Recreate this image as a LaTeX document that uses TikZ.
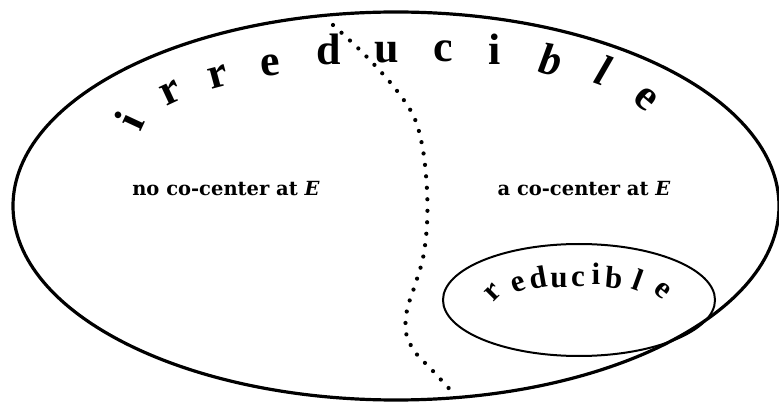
\documentclass[tikz,border=0pt]{standalone}
\usepackage{fontspec}
\setmainfont{Liberation Serif}
\newfontfamily\lblfont{DejaVu Serif}
\begin{document}
\begin{tikzpicture}[x=1pt,y=-1pt,
  bigletter/.style={font=\fontsize{44}{44}\selectfont\bfseries, anchor=base, inner sep=0pt},
  smallletter/.style={font=\fontsize{31}{31}\selectfont\bfseries, anchor=base, inner sep=0pt},
  regionlabel/.style={font=\lblfont\fontsize{19.5}{19.5}\selectfont\bfseries, inner sep=0pt},
  dotline/.style={line width=4.2pt, line cap=round, dash pattern=on 0pt off 11.5pt},
  bigoval/.style={line width=3.2pt},
  smalloval/.style={line width=2pt}]
\useasboundingbox (0,0) rectangle (779,403);
% outer set
\draw[bigoval] (396,206) ellipse [x radius=383, y radius=194];
% reducible set
\draw[smalloval] (579,300) ellipse [x radius=136, y radius=56];
% dividing dotted curve
\draw[dotline] plot[smooth, tension=0.55] coordinates {(333,25) (364,54) (394,87) (414,117) (423,150) (427,190) (427,225) (423,258) (415,285) (407,310) (406,333) (415,352) (432,370) (455,395)};
% irreducible
\node[bigletter, rotate=65] (i1) at (143,127) {i};
\node[bigletter, rotate=25] (r1) at (175,102) {r};
\node[bigletter, rotate=15] (r2) at (221,87) {r};
\node[bigletter, rotate=5]  (e1) at (271,76) {e};
\node[bigletter] (d1) at (329,65) {d};
\node[bigletter] (u1) at (387,63) {u};
\node[bigletter] (c1) at (443,62) {c};
\node[bigletter] (i2) at (495,65) {i};
\node[bigletter, rotate=-10] (b1) at (548,74) {\itshape b};
\node[bigletter, rotate=-20] (l1) at (598,85) {\itshape l};
\node[bigletter, rotate=-40] (e2) at (639,107) {e};
% reducible
\node[smallletter, rotate=45]  (r3) at (498,298) {r};
\node[smallletter, rotate=20]  (e3) at (521,291) {e};
\node[smallletter, rotate=10]  (d2) at (540,288) {d};
\node[smallletter] (u2) at (559,288) {u};
\node[smallletter] (c2) at (578,287) {c};
\node[smallletter] (i3) at (596,285) {i};
\node[smallletter, rotate=-5]  (b2) at (613,288) {b};
\node[smallletter, rotate=-20] (l2) at (635,290) {l};
\node[smallletter, rotate=-40] (e4) at (658,296) {e};
% region labels
\node[regionlabel] (left) at (226,189) {no co-center at \textit{E}};
\node[regionlabel] (right) at (584,189) {a co-center at \textit{E}};
\end{tikzpicture}
\end{document}
